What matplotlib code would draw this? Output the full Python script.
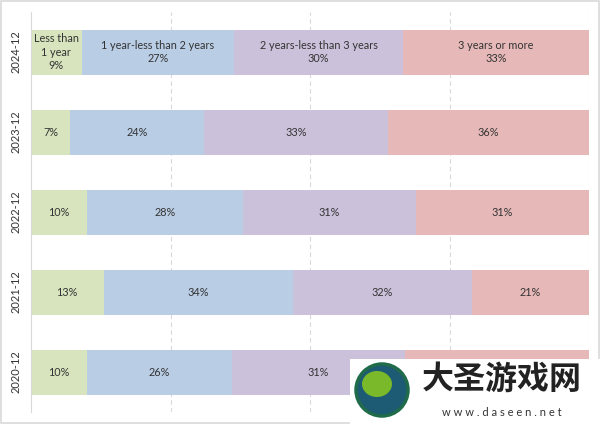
import numpy as np
import matplotlib.pyplot as plt
from matplotlib.patches import Rectangle, Ellipse

plt.rcParams["font.family"] = ["Lato", "DejaVu Sans"]

periods = ["2020-12", "2021-12", "2022-12", "2023-12", "2024-12"]
groups = ["Less than\n1 year", "1 year-less than 2 years",
          "2 years-less than 3 years", "3 years or more"]
less_1y = [10, 13, 10, 7, 9]
y1_to_2 = [26, 34, 28, 24, 27]
y2_to_3 = [31, 32, 31, 33, 30]
over_3y = [33, 21, 31, 36, 33]
colors = ["#d7e4bd", "#b9cde5", "#ccc1da", "#e6b9b8"]

data = np.array([less_1y, y1_to_2, y2_to_3, over_3y], dtype=float)
shares = data / data.sum(axis=0) * 100

fig = plt.figure(figsize=(6, 4.24), dpi=100)
ax = fig.add_axes([31 / 600, 12 / 424, 558 / 600, 400 / 424])

y = np.arange(len(periods))
left = np.zeros(len(periods))
for i in range(4):
    ax.barh(y, shares[i], left=left, height=0.5625, color=colors[i], zorder=2)
    for j in range(len(periods)):
        txt = f"{data[i, j]:.0f}%"
        if periods[j] == "2024-12":
            txt = groups[i] + "\n" + txt
        ax.text(left[j] + shares[i, j] / 2, y[j], txt, ha="center", va="center",
                fontsize=7.8, color="#333333", linespacing=1.3, zorder=3)
    left += shares[i]

ax.set_xlim(0, 100)
ax.set_ylim(-0.5, len(periods) - 0.5)
ax.set_yticks(y)
ax.set_yticklabels(periods, rotation=90, va="center", fontsize=8, color="#333333")
ax.tick_params(axis="y", length=0, pad=7)
ax.set_xticks([25, 50, 75, 100])
ax.tick_params(axis="x", length=0, labelbottom=False)
ax.grid(axis="x", color="#d9d9d9", linestyle=(0, (4, 3)), linewidth=0.8, zorder=0)
for s in ["top", "right", "bottom"]:
    ax.spines[s].set_visible(False)
ax.spines["left"].set_color("#d9d9d9")

# figure frame
fig.patches.append(Rectangle((0.002, 0.003), 0.996, 0.994, transform=fig.transFigure,
                             fill=False, edgecolor="#d9d9d9", linewidth=1.2))

# watermark
fig.patches.append(Rectangle((350 / 600, 0), 250 / 600, 65 / 424, transform=fig.transFigure,
                             facecolor="white", edgecolor="none", zorder=5))
fig.patches.append(Ellipse((382 / 600, 34 / 424), 52 / 600, 52 / 424, transform=fig.transFigure,
                           facecolor="#1d5a73", edgecolor="#1f6b4a", linewidth=2.5, zorder=6))
fig.patches.append(Ellipse((377 / 600, 40 / 424), 30 / 600, 26 / 424, transform=fig.transFigure,
                           facecolor="#7ab929", edgecolor="none", zorder=7))
fig.text(502 / 600, 44 / 424, "大圣游戏网", ha="center", va="center", fontsize=23,
         fontweight="bold", color="#222222", family=["Noto Sans CJK SC"], zorder=8)
fig.text(502 / 600, 11 / 424, "w w w . d a s e e n . n e t", ha="center", va="center",
         fontsize=8, color="#333333", zorder=8)

fig.savefig("out.png", dpi=100)
